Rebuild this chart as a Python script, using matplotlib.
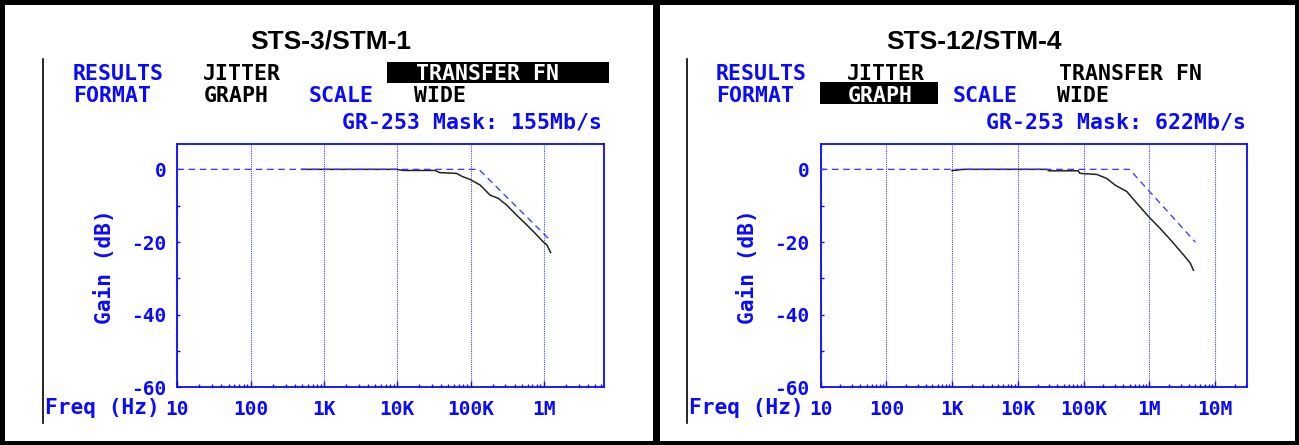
import matplotlib
matplotlib.use("Agg")
import matplotlib.pyplot as plt
from matplotlib.patches import Rectangle
from matplotlib.lines import Line2D
from matplotlib.ticker import FixedLocator, LogLocator, NullFormatter

# ---------------- data ----------------
titles = ["STS-3/STM-1", "STS-12/STM-4"]
mask_labels = ["GR-253 Mask: 155Mb/s", "GR-253 Mask: 622Mb/s"]

# measured jitter transfer, STS-3 / STM-1
freq_155 = [500, 1e3, 1e4, 1.2e4, 3.3e4, 3.8e4, 6.4e4, 7.8e4, 9.8e4, 1.35e5,
            1.85e5, 2.4e5, 3.1e5, 4.25e5, 5.85e5, 7.6e5, 9.75e5, 1.1e6, 1.24e6]
gain_155 = [0, 0, 0, -0.3, -0.3, -0.9, -1.1, -2.0, -2.75, -4.3,
            -7.1, -8.0, -9.8, -12.6, -15.3, -17.6, -19.9, -20.8, -22.9]
mask_f_155 = [10, 1.3e5, 1.25e6]
mask_g_155 = [0, 0, -19.7]

# measured jitter transfer, STS-12 / STM-4
freq_622 = [1e3, 1.5e3, 2.75e4, 3e4, 8.3e4, 8.8e4, 1.59e5, 2.25e5, 3e5, 4.54e5,
            6.45e5, 9.75e5, 1.45e6, 2.2e6, 3.3e6, 4.2e6, 4.7e6]
gain_622 = [-0.35, 0, 0, -0.4, -0.4, -1.1, -1.4, -2.5, -4.3, -6.1,
            -9.3, -13.0, -16.2, -19.8, -23.5, -25.8, -27.8]
mask_f_622 = [10, 5e5, 5e6]
mask_g_622 = [0, 0, -20]

x_ticks_155 = [10, 100, 1e3, 1e4, 1e5, 1e6]
x_labels_155 = ["10", "100", "1K", "10K", "100K", "1M"]
x_ticks_622 = [10, 100, 1e3, 1e4, 1e5, 1e6, 1e7]
x_labels_622 = ["10", "100", "1K", "10K", "100K", "1M", "10M"]
y_ticks = [0, -20, -40, -60]
y_labels = ["0", "-20", "-40", "-60"]
y_minor = [-10, -30, -50]
xmax = [6.62e6, 3.11e7]

# ---------------- style ----------------
W, H = 1299, 445
BLUE = "#0a0aff"
GRID = "#4040ff"
MASK = "#3a3aff"
MONO = "DejaVu Sans Mono"

fig = plt.figure(figsize=(W / 100, H / 100), dpi=100)
fig.patch.set_facecolor("white")


def fx(x):
    return x / W


def fy(y):
    return 1 - y / H


def rect(x0, y0, x1, y1, color="black"):
    fig.add_artist(Rectangle((fx(x0), fy(y1)), (x1 - x0) / W, (y1 - y0) / H,
                             transform=fig.transFigure, facecolor=color,
                             edgecolor="none", zorder=0))


def ftext(x, y, s, color=BLUE, size=15.5, ha="left", va="baseline", **kw):
    fig.text(fx(x), fy(y), s, color=color, fontsize=size, ha=ha, va=va,
             family=MONO, fontweight="bold", **kw)


# outer frame and divider
rect(0, 0, W, 5)
rect(0, H - 4, W, H)
rect(0, 0, 5, H)
rect(W - 4, 0, W, H)
rect(653, 0, 660, H)

panels = [
    dict(dx=0.0, freq=freq_155, gain=gain_155, mf=mask_f_155, mg=mask_g_155,
         xt=x_ticks_155, xl=x_labels_155, hl="transfer"),
    dict(dx=643.4, freq=freq_622, gain=gain_622, mf=mask_f_622, mg=mask_g_622,
         xt=x_ticks_622, xl=x_labels_622, hl="graph"),
]

for i, p in enumerate(panels):
    dx = p["dx"]
    # title
    fig.text(fx(331 + dx), fy(48.5), titles[i], fontsize=19, fontweight="bold",
             family="Liberation Sans", ha="center", va="baseline", color="black")
    # thin vertical line at left of panel
    fig.add_artist(Line2D([fx(43.3 + dx)] * 2, [fy(59.3), fy(423.3)],
                          transform=fig.transFigure, color="black", lw=1.2))
    # header
    ftext(72.7 + dx, 80, "RESULTS")
    ftext(203.3 + dx, 80, "JITTER", color="black")
    if p["hl"] == "transfer":
        rect(387.3 + dx, 61.7, 609.3 + dx, 83.3)
        ftext(416 + dx, 80, "TRANSFER FN", color="white")
    else:
        ftext(416 + dx, 80, "TRANSFER FN", color="black")
    ftext(72.7 + dx, 101.7, "FORMAT")
    if p["hl"] == "graph":
        rect(176.6 + dx, 81.7, 295 + dx, 104)
        ftext(204 + dx, 101.7, "GRAPH", color="white")
    else:
        ftext(204 + dx, 101.7, "GRAPH", color="black")
    ftext(309 + dx, 101.7, "SCALE")
    ftext(414 + dx, 101.7, "WIDE", color="black")
    ftext(342.5 + dx, 128, mask_labels[i])

    # axes
    x0, x1, yt, yb = 177.3 + dx, 604 + dx, 144.3, 387.3
    ax = fig.add_axes([fx(x0), fy(yb), (x1 - x0) / W, (yb - yt) / H])
    ax.set_xscale("log")
    ax.set_xlim(10, xmax[i])
    ax.set_ylim(-60, 6.9)
    for s in ax.spines.values():
        s.set_color(BLUE)
        s.set_linewidth(1.3)

    ax.xaxis.set_major_locator(FixedLocator(p["xt"]))
    ax.set_xticklabels(p["xl"])
    ax.xaxis.set_minor_locator(LogLocator(base=10, subs=range(2, 10), numticks=20))
    ax.xaxis.set_minor_formatter(NullFormatter())
    ax.set_yticks(y_ticks)
    ax.set_yticklabels(y_labels)
    ax.set_yticks(y_minor, minor=True)

    ax.tick_params(axis="both", which="both", direction="in", color=BLUE,
                   width=1.0, labelcolor=BLUE)
    ax.tick_params(axis="x", which="major", length=4, pad=9.5)
    ax.tick_params(axis="x", which="minor", length=2.5)
    ax.tick_params(axis="y", which="both", length=2.5, pad=8)
    for lab in ax.get_xticklabels() + ax.get_yticklabels():
        lab.set_family(MONO)
        lab.set_fontweight("bold")
        lab.set_fontsize(14)

    ax.grid(True, axis="x", which="major", color=GRID, linestyle=(0, (1, 1)),
            linewidth=0.8)
    ax.set_axisbelow(True)

    ax.plot(p["freq"], p["gain"], color="#222222", lw=1.1, zorder=3)
    ax.plot(p["mf"], p["mg"], color=MASK, lw=0.95, linestyle=(0, (5, 3.5)), zorder=4)

    # axis labels
    ftext(160 + dx, 413.5, "Freq (Hz)", size=15.2, ha="right")
    fig.text(fx(104 + dx), fy(267), "Gain (dB)", rotation=90, color=BLUE,
             fontsize=15.2, family=MONO, fontweight="bold",
             ha="center", va="center")

fig.savefig("out.png", dpi=100, facecolor="white")
